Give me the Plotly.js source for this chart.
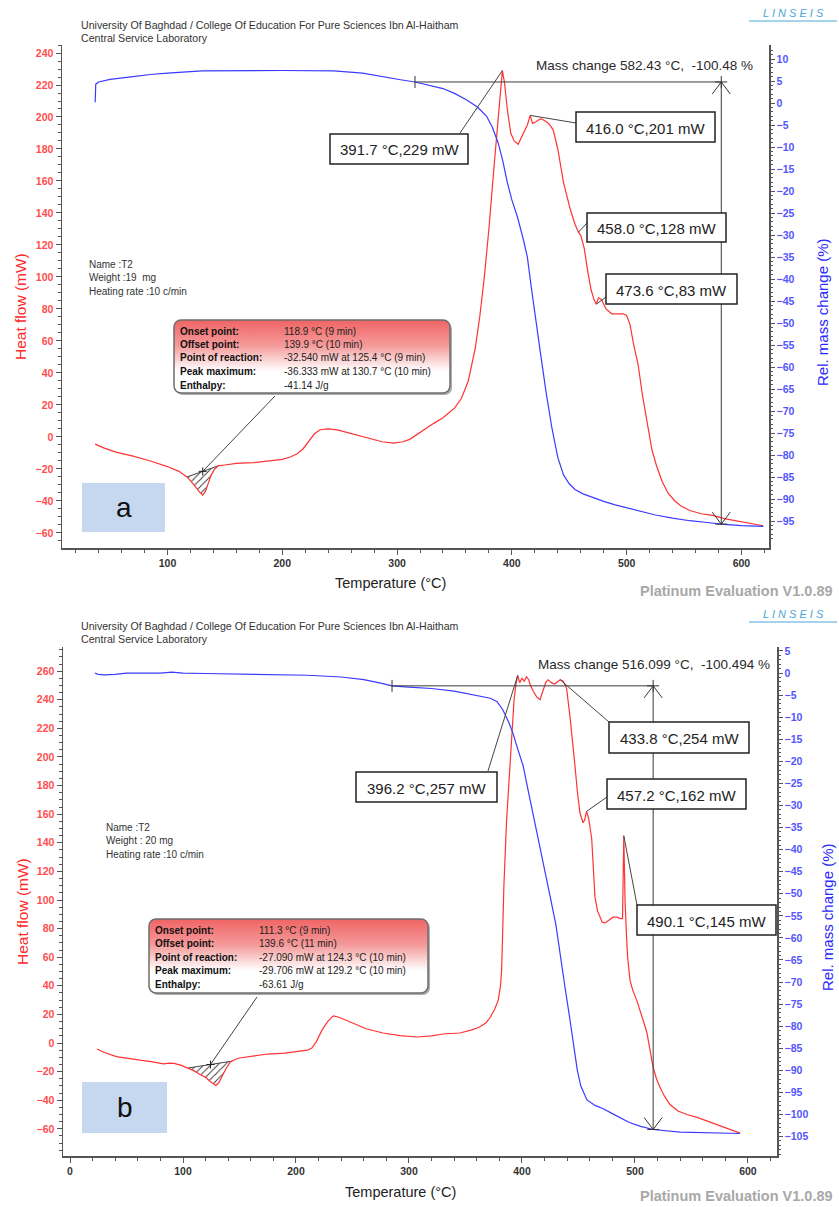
<!DOCTYPE html>
<html>
<head>
<meta charset="utf-8">
<script src="https://cdn.plot.ly/plotly-3.0.1.min.js"></script>
<style>html,body{margin:0;padding:0;background:#fff}</style>
</head>
<body>
<div id="chart" style="width:839px;height:1207px"></div>
<script>
// ---------- Sample a : T2, 19 mg ----------
const tempHfA = [37,45,55,70,85,100,110,117,122,125.4,128,130.7,133,135.5,138,141,144,150,160,175,190,200,207,213,218,223,228,233,240,248,260,274,287,297,305,311,320,332,340,350,356,362,368,372,376,380,384,388,390,391.7,393.5,396,399,402,405.5,408,411,413.5,416,418,421,425,428,432,436,440,445,451,455,458,460,463,466,469,471.5,473.6,475.5,478,482,487,492,497,500,503,506,510,514,518,522,526,531,536,542,547,555,565,575,585,600,610,619];
const heatFlowA = [-4.5,-7,-9.5,-12,-15,-18.5,-21.5,-25,-29,-32.5,-34.5,-36.3,-34,-29,-24,-20,-18.1,-17.5,-16.5,-16,-15,-14,-12.5,-10.5,-7.5,-3,2,4.5,5,4.4,2,-0.6,-3,-3.8,-3,-1.5,3,8.5,12,18,24,35,55,75,100,130,165,200,215,229,222,205,190,185,183,187,191,195,201,196,197,199,198,196,192,180,159,142,133,128,126,118,104,92,86,83,87,86,80,77,77,77,76,70,58,45,25,8,-8,-18,-28,-35,-40,-43,-46,-48,-49,-51,-53,-54.5,-55.5];
const tempTgA = [37,37.5,40,50,70,85,100,130,200,245,270,288,303,315.6,330,340,350,360,370,378,383,388,392,396,400,405,410,413.5,417,420.5,425,430,435,440,445,450,455,462,470,480,490,500,512,525,540,555,570,582.43,600,619];
const massA = [0.2,4.3,4.8,5.4,6.0,6.5,6.8,7.3,7.4,7.3,6.8,5.9,5.3,4.8,4.0,3.3,2.2,0.8,-0.9,-3,-5.5,-9,-13,-18,-22,-26,-31,-35,-42,-49,-57,-66,-74,-80.5,-84.5,-86.5,-87.8,-88.8,-89.6,-90.5,-91.3,-92,-92.8,-93.6,-94.3,-94.9,-95.3,-95.68,-96,-96.2];
const peakTempA = [391.7, 416.0, 458.0, 473.6];
const peakFlowA = [229, 201, 128, 83];
const massStepTempA = [315.6, 582.43];
const massStepLevelA = 4.8;
const massChangeA = -100.48;
const hatchTempA = [117, 144];
const infoValuesA = ['118.9 °C (9 min)', '139.9 °C (10 min)', '-32.540 mW at 125.4 °C (9 min)', '-36.333 mW at 130.7 °C (10 min)', '-41.14 J/g'];
const sampleInfoA = ['Name :T2', 'Weight :19  mg', 'Heating rate :10 c/min'];
const massTicksA = [10, -95];   // labelled span of the mass-change axis

// ---------- Sample b : T2, 20 mg ----------
const tempHfB = [24,30,41,52,62,72,82.5,88,92,98,103,110,115,120,124.3,127,129.2,131.5,134,138,142,146,150,162,175,190,203,210,214,218,223,228,233,238,248,262,277,292,307,320,330,345,355,362,368,372,376,379,381,382,383,384,386.4,389,391,393,394.5,396.2,398,400,402,404,406,407.5,410,413,416,418.6,421,423,426,429,431,433.8,436.5,439.5,442.5,445,447,449,451.3,454,455.5,457.2,459,461.7,463,464.6,467,469,471,473.5,477,480.7,484,487,489,489.6,490.1,490.6,491.2,492.5,493.5,495.6,498,501.5,505,508,510.6,513,516,519,522,526,531,538,546,555,565,575,585,593];
const heatFlowB = [-4.2,-6.5,-9.5,-11,-12,-13,-14.6,-14,-14.2,-15.5,-17,-19.5,-22,-24,-27.1,-28.7,-29.7,-28,-24,-18,-13.3,-11.5,-10.5,-9,-7.7,-7,-6,-5,-3.5,1,9,15,19,18,14.7,10,7,5.2,4.2,5,6.3,7,9,11,14,18,24,30,40,51,80,110,156,190,215,240,250,257,252,255,253,256,254,250,246,242,240,246,252,254,252,251,252,254,253,248,228,210,193,176,161,154,156,162,157,143,125,102,92,88,84.5,84,86,88,88,87,87,110,145,125,100,75,60,44,37,30,22,14,7,-3,-16.8,-25,-30.8,-37,-43,-47.5,-50,-52,-55,-58,-61,-63];
const tempTgB = [22,25,30,40,50,65,80,90,100,120,150,180,210,240,260,275,285,300,320,340,360,372,378,383,388,392,396,401,405,410,415,419,425,430,434,438,442.5,446,449,452,457.5,465,472,480,487,495,505,516.099,540,570,593];
const massB = [0,-0.3,-0.4,-0.3,0,0,0,0.2,0,-0.1,-0.2,-0.3,-0.5,-0.9,-1.5,-2.3,-2.9,-3.2,-3.5,-4.1,-5,-5.7,-6.5,-8.3,-11,-13.6,-17,-21,-26,-32,-38,-43,-50.7,-57,-63.5,-71,-78.6,-85,-90,-93.5,-96.7,-98,-98.7,-99.8,-100.8,-101.8,-102.7,-103.394,-104,-104.2,-104.3];
const peakTempB = [396.2, 433.8, 457.2, 490.1];
const peakFlowB = [257, 254, 162, 145];
const massStepTempB = [285, 516.099];
const massStepLevelB = -2.9;
const massChangeB = -100.494;
const hatchTempB = [104.4, 143.4];
const infoValuesB = ['111.3 °C (9 min)', '139.6 °C (11 min)', '-27.090 mW at 124.3 °C (10 min)', '-29.706 mW at 129.2 °C (10 min)', '-63.61 J/g'];
const sampleInfoB = ['Name :T2', 'Weight : 20 mg', 'Heating rate :10 c/min'];
const massTicksB = [5, -105];

const infoLabels = ['Onset point:', 'Offset point:', 'Point of reaction:', 'Peak maximum:', 'Enthalpy:'];
const headerLines = ['University Of Baghdad / College Of Education For Pure Sciences Ibn Al-Haitham', 'Central Service Laboratory'];

// ---------- page geometry (pixels) ----------
const W = 839, H = 1207;
const FONT = 'Liberation Sans, Arial, sans-serif';
const RED = '#ff3333', BLUE = '#3b3bff', INK = '#333333', AXIS = '#555555';

const panels = [
  { key: 'a', box: {l: 62, r: 769, t: 45, b: 548}, xr: [8.1, 624.0], yr: [-69.4, 245], y2r: [-101.1, 13.2],
    xa: 'x', ya: 'y', y2a: 'y2', massTicks: massTicksA,
    tHf: tempHfA, hf: heatFlowA, tTg: tempTgA, tg: massA,
    peakT: peakTempA, peakV: peakFlowA,
    peakBoxes: [ {cx: 399, cy: 149, w: 138, h: 30, ax: 460, ay: 133},
                 {cx: 645.5, cy: 127, w: 139, h: 30, ax: 576, ay: 123},
                 {cx: 656.5, cy: 227.5, w: 139, h: 29, ax: 587, ay: 223},
                 {cx: 671.5, cy: 289, w: 131, h: 30, ax: 606, ay: 297} ],
    stepT: massStepTempA, stepL: massStepLevelA, stepD: massChangeA, stepText: {x: 755, y: 65},
    hatch: hatchTempA, crossT: 130.7, info: infoValuesA,
    infoBox: {l: 173, t: 319, w: 280, h: 77, lead: [275, 396]}, rows0: 331, labX: 178, valX: 282,
    sample: sampleInfoA, sampleX: 87, sampleY: 264,
    letterBox: {l: 82, r: 165, t: 483, b: 532},
    header: 25, logo: 13, xTitle: {x: 390, y: 583}, platinum: 591,
    hfTitle: {x: 20, y: 307}, tgTitle: {x: 822, y: 312} },
  { key: 'b', box: {l: 63, r: 777, t: 647, b: 1156}, xr: [-6.2, 625.7], yr: [-79.0, 276.9], y2r: [-109.4, 5.9],
    xa: 'x2', ya: 'y3', y2a: 'y4', massTicks: massTicksB,
    tHf: tempHfB, hf: heatFlowB, tTg: tempTgB, tg: massB,
    peakT: peakTempB, peakV: peakFlowB,
    peakBoxes: [ {cx: 426.5, cy: 787, w: 141, h: 30, ax: 488, ay: 771},
                 {cx: 679, cy: 737.5, w: 140, h: 31, ax: 609, ay: 722},
                 {cx: 676.5, cy: 794, w: 139, h: 30, ax: 607, ay: 797},
                 {cx: 706.5, cy: 920, w: 139, h: 30, ax: 637, ay: 905} ],
    stepT: massStepTempB, stepL: massStepLevelB, stepD: massChangeB, stepText: {x: 772, y: 664},
    hatch: hatchTempB, crossT: 124.3, info: infoValuesB,
    infoBox: {l: 148, t: 918, w: 283, h: 78, lead: [257, 997]}, rows0: 930, labX: 153, valX: 257,
    sample: sampleInfoB, sampleX: 104, sampleY: 827,
    letterBox: {l: 82, r: 167, t: 1082, b: 1133},
    header: 626, logo: 614, xTitle: {x: 400, y: 1192}, platinum: 1196,
    hfTitle: {x: 22, y: 912}, tgTitle: {x: 827, y: 917} }
];

// pixel <-> data helpers for a panel
const xOf = (p, px) => p.xr[0] + (px - p.box.l) / (p.box.r - p.box.l) * (p.xr[1] - p.xr[0]);
const yOf = (p, r, py) => r[0] + (p.box.b - py) / (p.box.b - p.box.t) * (r[1] - r[0]);
const dx = (p, dpx) => dpx / (p.box.r - p.box.l) * (p.xr[1] - p.xr[0]);
const dy = (p, r, dpx) => dpx / (p.box.b - p.box.t) * (r[1] - r[0]);
const PX = px => px / W, PY = py => 1 - py / H;

function interp(xs, ys, x) {
  for (let i = 1; i < xs.length; i++) {
    if (x <= xs[i]) { const f = (x - xs[i-1]) / (xs[i] - xs[i-1]); return ys[i-1] + f * (ys[i] - ys[i-1]); }
  }
  return ys[ys.length - 1];
}
function steps(from, to, step) { const out = []; for (let v = from; v >= to - 1e-9; v -= step) out.push(+v.toFixed(6)); return out; }

function txt(px, py, text, o) {
  o = o || {};
  return { xref: 'paper', yref: 'paper', x: PX(px), y: PY(py), text, showarrow: false,
    xanchor: o.xa || 'left', yanchor: o.ya || 'middle', textangle: o.angle || 0,
    font: { family: o.family || FONT, size: o.size || 10.5, color: o.color || INK, weight: o.weight || 'normal', style: o.style || 'normal' } };
}

function infoBoxSvg(w, h) {
  return '<svg xmlns="http://www.w3.org/2000/svg" width="' + w + '" height="' + h + '" viewBox="0 0 ' + w + ' ' + h + '">' +
    '<defs><linearGradient id="g" x1="0" y1="0" x2="0" y2="1">' +
    '<stop offset="0" stop-color="#f06464"/><stop offset="0.35" stop-color="#f59a9a"/><stop offset="0.7" stop-color="#ffffff"/><stop offset="1" stop-color="#ffffff"/>' +
    '</linearGradient></defs>' +
    '<rect x="3" y="3" width="' + (w - 4) + '" height="' + (h - 4) + '" rx="7" fill="#8a8a8a" opacity="0.7"/>' +
    '<rect x="1" y="1" width="' + (w - 4) + '" height="' + (h - 4) + '" rx="7" fill="url(#g)" stroke="#6e6e6e" stroke-width="1.5"/>' +
    '</svg>';
}

const traces = [], shapes = [], annotations = [], images = [];
const layout = {
  width: W, height: H, autosize: false, margin: {l: 0, r: 0, t: 0, b: 0},
  paper_bgcolor: '#ffffff', plot_bgcolor: '#ffffff', showlegend: false,
  shapes, annotations, images
};

panels.forEach((p, k) => {
  const xName = k === 0 ? 'xaxis' : 'xaxis2';
  const yName = k === 0 ? 'yaxis' : 'yaxis3';
  const y2Name = k === 0 ? 'yaxis2' : 'yaxis4';
  const tickBase = { showline: true, linecolor: AXIS, linewidth: 1.5, ticks: 'outside', tickcolor: AXIS, tickwidth: 1,
    showgrid: false, zeroline: false, fixedrange: true };
  layout[xName] = Object.assign({}, tickBase, {
    domain: [PX(p.box.l), PX(p.box.r)], range: p.xr, anchor: p.ya, tick0: 0, dtick: 100, ticklen: 5,
    minor: {dtick: 20, ticklen: 3, ticks: 'outside', tickcolor: AXIS},
    tickfont: {family: FONT, size: 10.5, color: '#333', weight: 'bold'} });
  layout[yName] = Object.assign({}, tickBase, {
    domain: [PY(p.box.b), PY(p.box.t)], range: p.yr, anchor: p.xa, tick0: 0, dtick: 20, ticklen: 5,
    minor: {dtick: 5, ticklen: 3, ticks: 'outside', tickcolor: AXIS},
    tickfont: {family: FONT, size: 10.5, color: '#ff4d4d', weight: 'bold'} });
  const [mt0, mt1] = p.massTicks;
  layout[y2Name] = Object.assign({}, tickBase, {
    overlaying: p.ya, side: 'right', anchor: p.xa, range: p.y2r,
    tickmode: 'array', tickvals: steps(mt0, mt1, 5), ticklen: 4,
    minor: {tickmode: 'array', tickvals: steps(mt0 + 2, mt1 - 4, 1), ticklen: 2.5, ticks: 'outside', tickcolor: AXIS},
    tickfont: {family: FONT, size: 10.5, color: '#5555ff', weight: 'bold'} });

  // hatched endotherm area between the DSC curve and its baseline
  const [t1, t2] = p.hatch;
  const hx = [t1], hy = [interp(p.tHf, p.hf, t1)];
  p.tHf.forEach((t, i) => { if (t > t1 && t < t2) { hx.push(t); hy.push(p.hf[i]); } });
  hx.push(t2); hy.push(interp(p.tHf, p.hf, t2));
  traces.push({ x: hx, y: hy, xaxis: p.xa, yaxis: p.ya, mode: 'lines', fill: 'toself',
    fillcolor: 'rgba(0,0,0,0)', line: {width: 0, color: 'rgba(0,0,0,0)'},
    fillpattern: {shape: '/', fgcolor: '#333333', bgcolor: 'rgba(255,255,255,0)', size: 5, solidity: 0.18},
    hoverinfo: 'skip' });
  const bl0 = hy[0], bl1 = hy[hy.length - 1];
  traces.push({ x: [t1, t2], y: [bl0, bl1], xaxis: p.xa, yaxis: p.ya, mode: 'lines',
    line: {color: '#444', width: 1}, hoverinfo: 'skip' });

  // DSC heat flow
  traces.push({ x: p.tHf, y: p.hf, xaxis: p.xa, yaxis: p.ya, mode: 'lines',
    line: {color: RED, width: 1.2}, hoverinfo: 'skip' });
  // TG mass change
  traces.push({ x: p.tTg, y: p.tg, xaxis: p.xa, yaxis: p.y2a, mode: 'lines',
    line: {color: BLUE, width: 1.2}, hoverinfo: 'skip' });

  // mass-change measurement: horizontal from start, vertical arrow spanning the change
  const [ts, te] = p.stepT;
  const lvl = p.stepL, low = p.stepL + p.stepD;
  traces.push({ x: [ts, te, te], y: [lvl, lvl, low], xaxis: p.xa, yaxis: p.y2a, mode: 'lines',
    line: {color: '#3a3a3a', width: 1}, hoverinfo: 'skip' });
  const seg = (x0, y0, x1, y1, yref, w) => shapes.push({ type: 'line', xref: p.xa, yref: yref,
    x0, y0, x1, y1, line: {color: '#333', width: w || 1} });
  const hx9 = dx(p, 9), hy12 = dy(p, p.y2r, 12), tick6 = dy(p, p.y2r, 6), tickX6 = dx(p, 6);
  seg(ts, lvl - tick6, ts, lvl + tick6, p.y2a);
  seg(te, lvl - tick6, te, lvl + tick6, p.y2a);
  seg(te - tickX6, lvl, te + tickX6, lvl, p.y2a);
  seg(te, lvl, te - hx9, lvl - hy12, p.y2a);
  seg(te, lvl, te + hx9, lvl - hy12, p.y2a);
  seg(te, low, te - hx9, low + hy12, p.y2a);
  seg(te, low, te + hx9, low + hy12, p.y2a);
  seg(te - tickX6, low, te + tickX6, low, p.y2a);
  annotations.push(txt(p.stepText.x, p.stepText.y,
    'Mass change ' + te + ' °C,  ' + p.stepD + ' %', {xa: 'right', size: 13.5, color: '#2a2a2a'}));

  // peak labels: framed boxes with leader lines to the marked points
  p.peakT.forEach((t, i) => {
    const b = p.peakBoxes[i];
    shapes.push({ type: 'line', xref: p.xa, yref: p.ya, x0: t, y0: p.peakV[i],
      x1: xOf(p, b.ax), y1: yOf(p, p.yr, b.ay), line: {color: '#444', width: 1} });
    shapes.push({ type: 'rect', xref: 'paper', yref: 'paper',
      x0: PX(b.cx - b.w / 2), x1: PX(b.cx + b.w / 2), y0: PY(b.cy + b.h / 2), y1: PY(b.cy - b.h / 2),
      fillcolor: '#ffffff', line: {color: '#222', width: 1.5} });
    annotations.push(txt(b.cx, b.cy + 1, t.toFixed(1) + ' °C,' + p.peakV[i] + ' mW',
      {xa: 'center', size: 15, color: '#222'}));
  });

  // evaluation box (onset/offset/enthalpy) with leader to the baseline cross
  const ib = p.infoBox;
  const crossY = interp([t1, t2], [bl0, bl1], p.crossT);
  shapes.push({ type: 'line', xref: p.xa, yref: p.ya, x0: p.crossT, y0: crossY,
    x1: xOf(p, ib.lead[0]), y1: yOf(p, p.yr, ib.lead[1]), line: {color: '#444', width: 1} });
  const cx5 = dx(p, 4), cy5 = dy(p, p.yr, 4);
  shapes.push({ type: 'line', xref: p.xa, yref: p.ya, x0: p.crossT - cx5, y0: crossY, x1: p.crossT + cx5, y1: crossY, line: {color: '#222', width: 1} });
  shapes.push({ type: 'line', xref: p.xa, yref: p.ya, x0: p.crossT, y0: crossY - cy5, x1: p.crossT, y1: crossY + cy5, line: {color: '#222', width: 1} });
  images.push({ source: 'data:image/svg+xml;charset=utf-8,' + encodeURIComponent(infoBoxSvg(ib.w, ib.h)),
    xref: 'paper', yref: 'paper', x: PX(ib.l), y: PY(ib.t), sizex: ib.w / W, sizey: ib.h / H,
    xanchor: 'left', yanchor: 'top', sizing: 'stretch', layer: 'above' });
  infoLabels.forEach((lab, i) => {
    const yy = p.rows0 + i * 13.5;
    annotations.push(txt(p.labX, yy, lab, {size: 10, color: '#111', weight: 'bold'}));
    annotations.push(txt(p.valX, yy, p.info[i], {size: 10, color: '#222'}));
  });

  // sample description
  p.sample.forEach((s, i) => annotations.push(txt(p.sampleX, p.sampleY + i * 13.5, s, {size: 10, color: '#333'})));

  // panel letter tag
  const lb = p.letterBox;
  shapes.push({ type: 'rect', xref: 'paper', yref: 'paper', x0: PX(lb.l), x1: PX(lb.r), y0: PY(lb.b), y1: PY(lb.t),
    fillcolor: '#c6d8ef', line: {width: 0}, layer: 'below' });
  annotations.push(txt((lb.l + lb.r) / 2, (lb.t + lb.b) / 2, p.key, {xa: 'center', size: 28, color: '#111'}));

  // headers, logo, footer
  annotations.push(txt(79, p.header, headerLines[0], {size: 10.6, color: '#333'}));
  annotations.push(txt(79, p.header + 13.5, headerLines[1], {size: 10.6, color: '#333'}));
  annotations.push(txt(793, p.logo, 'L I N S E I S', {xa: 'center', size: 11, color: '#4aa6d6', style: 'italic'}));
  shapes.push({ type: 'line', xref: 'paper', yref: 'paper', x0: PX(749), x1: PX(837), y0: PY(p.logo + 8), y1: PY(p.logo + 8),
    line: {color: '#4aa6d6', width: 1} });
  annotations.push(txt(835, p.platinum, 'Platinum Evaluation V1.0.89', {xa: 'right', size: 14.5, color: '#a8a8a8', weight: 'bold'}));

  // axis titles
  annotations.push(txt(p.xTitle.x, p.xTitle.y, 'Temperature (°C)', {xa: 'center', size: 14.5, color: '#222'}));
  annotations.push(txt(p.hfTitle.x, p.hfTitle.y, 'Heat flow (mW)', {xa: 'center', size: 15.5, color: '#ff2a2a', angle: -90}));
  annotations.push(txt(p.tgTitle.x, p.tgTitle.y, 'Rel. mass change (%)', {xa: 'center', size: 15, color: '#2a2aff', angle: -90}));
});

Plotly.newPlot('chart', traces, layout, {staticPlot: true, displayModeBar: false});
</script>
</body>
</html>
